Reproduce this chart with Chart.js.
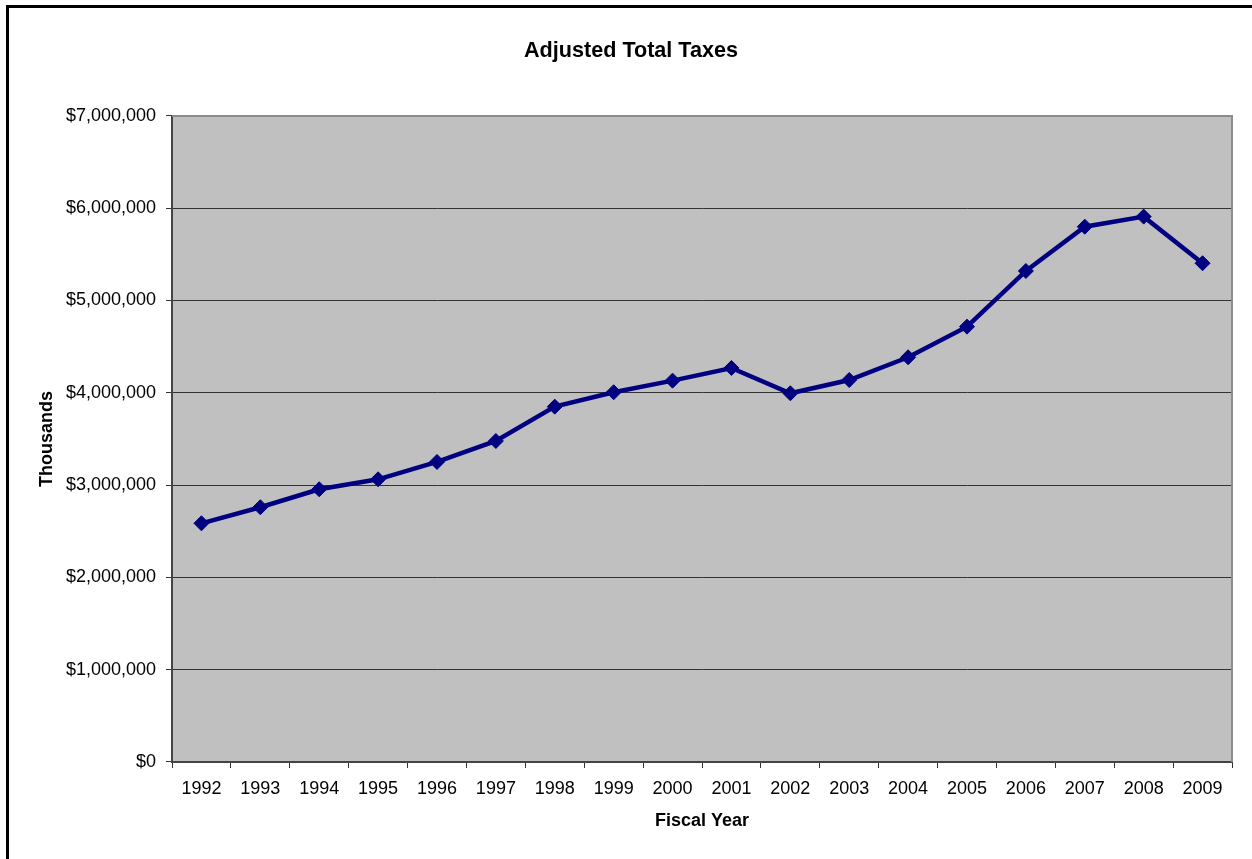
<!DOCTYPE html>
<html>
<head>
<meta charset="utf-8">
<title>Adjusted Total Taxes</title>
<script src="https://cdn.jsdelivr.net/npm/chart.js@4.4.1/dist/chart.umd.min.js"></script>
<style>
  html, body { margin: 0; padding: 0; background: #fff; }
  #wrap { position: relative; width: 1252px; height: 859px; }
</style>
</head>
<body>
<div id="wrap"><canvas id="taxChart" width="1252" height="859"></canvas></div>
<script>
// fiscal years and adjusted total taxes (in thousands of dollars)
var years = ["1992","1993","1994","1995","1996","1997","1998","1999","2000",
             "2001","2002","2003","2004","2005","2006","2007","2008","2009"];
var adjustedTaxes = [2586000, 2760000, 2955000, 3063000, 3251000, 3478000,
                     3850000, 4006000, 4132000, 4269000, 3995000, 4139000,
                     4385000, 4717000, 5320000, 5800000, 5909000, 5404000];
var yMin = 0;
var yMax = 7000000;
var yStep = 1000000;

var FONT = "'Liberation Sans', Arial, sans-serif";

function money(v) {
  return '$' + Number(v).toLocaleString('en-US');
}

// gray plot area, its border, and the frame round the whole chart
var frame = {
  id: 'frame',
  beforeDraw: function(chart) {
    var a = chart.chartArea, ctx = chart.ctx;
    ctx.save();
    ctx.fillStyle = '#ffffff';
    ctx.fillRect(0, 0, chart.width, chart.height);
    ctx.fillStyle = '#c0c0c0';
    ctx.fillRect(a.left, a.top, a.right - a.left, a.bottom - a.top);
    ctx.restore();
  },
  beforeDatasetsDraw: function(chart) {
    var a = chart.chartArea, ctx = chart.ctx;
    ctx.save();
    ctx.strokeStyle = '#8c8c8c';
    ctx.lineWidth = 2;
    ctx.beginPath();
    ctx.moveTo(a.left, a.top);
    ctx.lineTo(a.right, a.top);
    ctx.lineTo(a.right, a.bottom);
    ctx.stroke();
    ctx.restore();
  },
  afterDraw: function(chart) {
    var ctx = chart.ctx;
    ctx.save();
    ctx.fillStyle = '#000';
    ctx.fillRect(6, 5, 3, chart.height - 5);
    ctx.fillRect(6, 5, chart.width - 6, 3);
    ctx.restore();
  }
};

new Chart(document.getElementById('taxChart').getContext('2d'), {
  type: 'line',
  data: {
    labels: years,
    datasets: [{
      label: 'Adjusted Total Taxes',
      data: adjustedTaxes,
      borderColor: '#000080',
      backgroundColor: '#000080',
      borderWidth: 4.5,
      tension: 0,
      pointStyle: 'rectRot',
      pointRadius: 7.5,
      pointBorderWidth: 1,
      pointBackgroundColor: '#000080',
      pointBorderColor: '#000080'
    }]
  },
  options: {
    responsive: false,
    animation: false,
    layout: { padding: { left: 30, right: 20, top: 0, bottom: 0 } },
    plugins: {
      legend: { display: false },
      tooltip: { enabled: false },
      title: {
        display: true,
        text: 'Adjusted Total Taxes',
        color: '#000',
        font: { family: FONT, size: 21.6, weight: 'bold' },
        padding: { top: 38, bottom: 52 }
      }
    },
    scales: {
      x: {
        offset: true,
        grid: {
          offset: true,
          drawOnChartArea: false,
          drawTicks: true,
          tickLength: 6,
          color: '#333'
        },
        border: { display: true, color: '#444', width: 2 },
        ticks: {
          color: '#000',
          padding: 10,
          maxRotation: 0,
          autoSkip: false,
          font: { family: FONT, size: 18 }
        },
        title: {
          display: true,
          text: 'Fiscal Year',
          color: '#000',
          font: { family: FONT, size: 18, weight: 'bold' },
          padding: { top: 0, bottom: 27 }
        },
        afterFit: function(scale) { scale.height = 97; }
      },
      y: {
        min: yMin,
        max: yMax,
        grid: {
          color: '#333',
          tickLength: 6,
          drawTicks: true
        },
        border: { display: true, color: '#444', width: 2 },
        ticks: {
          stepSize: yStep,
          color: '#000',
          padding: 10,
          font: { family: FONT, size: 18 },
          callback: function(v) { return money(v); }
        },
        title: {
          display: true,
          text: 'Thousands',
          color: '#000',
          font: { family: FONT, size: 18, weight: 'bold' },
          padding: { top: 6, bottom: 0 }
        },
        afterFit: function(scale) { scale.width = 142; }
      }
    }
  },
  plugins: [frame]
});
</script>
</body>
</html>
